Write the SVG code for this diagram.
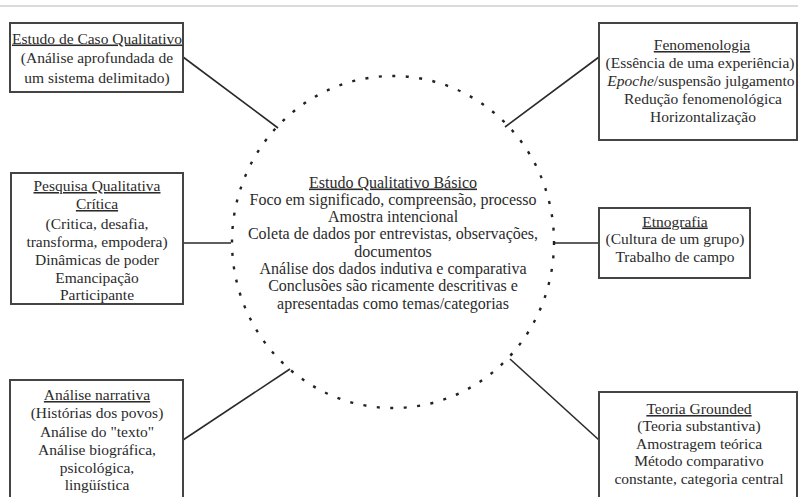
<svg xmlns="http://www.w3.org/2000/svg" width="798" height="497" viewBox="0 0 798 497">
  <style>
    .box { fill: #ffffff; stroke: #444444; stroke-width: 2; }
    .txt { font-size: 15.5px; fill: #2b2b2b; text-anchor: middle; }
    .mid { font-size: 16px; }
    .ttl { text-decoration: underline; }
    .conn { stroke: #2a2a2a; stroke-width: 1.6; fill: none; }
    .hub { fill: none; stroke: #222222; stroke-width: 2.4; stroke-dasharray: 3 10.5; }
  </style>

  <rect width="798" height="497" fill="#ffffff"/>
  <!-- top rule -->
  <line x1="0" y1="6" x2="798" y2="6" stroke="#cfcfcf" stroke-width="1.5"/>

  <!-- connectors -->
  <g id="connectors">
    <line class="conn" x1="183" y1="57" x2="278" y2="128"/>
    <line class="conn" x1="599" y1="57" x2="505" y2="127"/>
    <line class="conn" x1="183" y1="243" x2="231" y2="243"/>
    <line class="conn" x1="555" y1="243" x2="599" y2="243"/>
    <line class="conn" x1="183" y1="440" x2="290" y2="369"/>
    <line class="conn" x1="599" y1="440" x2="510" y2="359"/>
  </g>

  <g font-family="'Liberation Serif', 'Times New Roman', 'DejaVu Serif', serif">
  <!-- central node -->
  <g id="estudo-basico">
    <ellipse class="hub" cx="393" cy="242" rx="161" ry="166"/>
    <text class="txt mid" x="393" y="187.5"><tspan class="ttl">Estudo Qualitativo Básico</tspan></text>
    <text class="txt mid" x="393" y="204.8">Foco em significado, compreensão, processo</text>
    <text class="txt mid" x="393" y="222.1">Amostra intencional</text>
    <text class="txt mid" x="393" y="239.4">Coleta de dados por  entrevistas, observações,</text>
    <text class="txt mid" x="393" y="256.7">documentos</text>
    <text class="txt mid" x="393" y="274">Análise dos dados indutiva e comparativa</text>
    <text class="txt mid" x="393" y="291.3">Conclusões são ricamente descritivas e</text>
    <text class="txt mid" x="393" y="308.6">apresentadas como temas/categorias</text>
  </g>

  <g id="estudo-caso">
    <rect class="box" x="10" y="23" width="173" height="69"/>
    <text class="txt" x="97" y="43.5"><tspan class="ttl">Estudo de Caso Qualitativo</tspan></text>
    <text class="txt" x="97" y="63">(Análise aprofundada de</text>
    <text class="txt" x="97" y="82.5">um sistema delimitado)</text>
  </g>

  <g id="fenomenologia">
    <rect class="box" x="599" y="23" width="198" height="117"/>
    <text class="txt" x="702" y="50"><tspan class="ttl">Fenomenologia</tspan></text>
    <text class="txt" x="700" y="68">(Essência de uma experiência)</text>
    <text class="txt" x="701" y="86"><tspan font-style="italic">Epoche</tspan>/suspensão julgamento</text>
    <text class="txt" x="703" y="104">Redução fenomenológica</text>
    <text class="txt" x="703" y="122">Horizontalização</text>
  </g>

  <g id="pesquisa-critica">
    <rect class="box" x="11" y="173" width="172" height="131"/>
    <text class="txt" x="97" y="191"><tspan class="ttl">Pesquisa Qualitativa</tspan></text>
    <text class="txt" x="97" y="209"><tspan class="ttl">Crítica</tspan></text>
    <text class="txt" x="97" y="229">(Critica, desafia,</text>
    <text class="txt" x="97" y="247">transforma, empodera)</text>
    <text class="txt" x="97" y="265">Dinâmicas de poder</text>
    <text class="txt" x="97" y="282.5">Emancipação</text>
    <text class="txt" x="97" y="300">Participante</text>
  </g>

  <g id="etnografia">
    <rect class="box" x="599" y="208" width="151" height="70"/>
    <text class="txt" x="675" y="226.5"><tspan class="ttl">Etnografia</tspan></text>
    <text class="txt" x="675" y="244">(Cultura de um grupo)</text>
    <text class="txt" x="675" y="261.5">Trabalho de campo</text>
  </g>

  <g id="analise-narrativa">
    <rect class="box" x="10" y="380" width="173" height="125"/>
    <text class="txt" x="97" y="400"><tspan class="ttl">Análise narrativa</tspan></text>
    <text class="txt" x="97" y="418">(Histórias dos povos)</text>
    <text class="txt" x="97" y="436.5">Análise do "texto"</text>
    <text class="txt" x="97" y="455">Análise biográfica,</text>
    <text class="txt" x="97" y="472.5">psicológica,</text>
    <text class="txt" x="97" y="490">lingüística</text>
  </g>

  <g id="teoria-grounded">
    <rect class="box" x="599" y="392" width="198" height="115"/>
    <text class="txt" x="699" y="414"><tspan class="ttl">Teoria Grounded</tspan></text>
    <text class="txt" x="699" y="431">(Teoria substantiva)</text>
    <text class="txt" x="699" y="448.5">Amostragem teórica</text>
    <text class="txt" x="699" y="466">Método comparativo</text>
    <text class="txt" x="699" y="483.5">constante, categoria central</text>
  </g>
  </g>
</svg>
